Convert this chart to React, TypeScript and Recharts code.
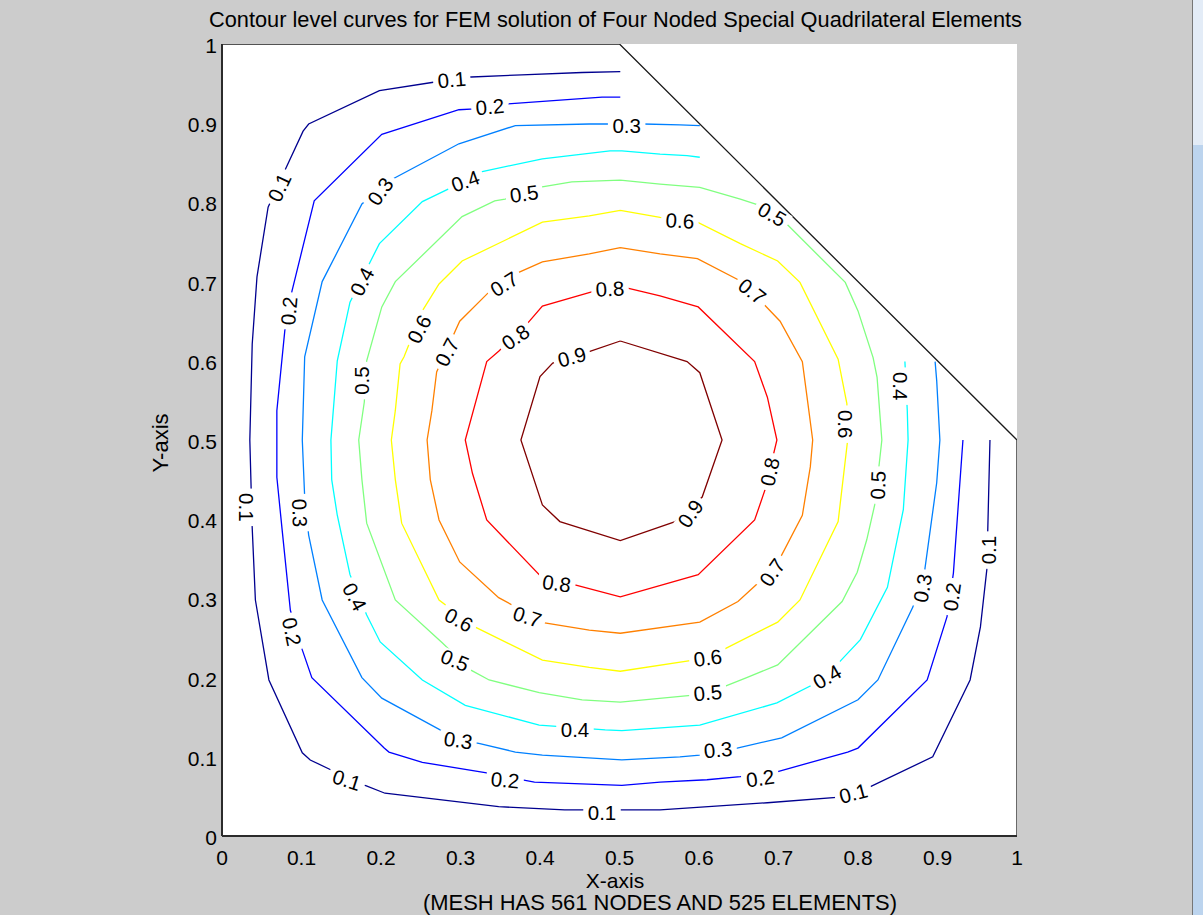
import React from 'react';
import { LineChart, Line, XAxis, YAxis, CartesianGrid, ReferenceDot } from 'recharts';

type Pt = [number, number];
type Lab = [number, number, number]; // x, y, rotation (deg)

const FONT = '"Liberation Sans", Arial, Helvetica, sans-serif';

const tickValues = [0, 0.1, 0.2, 0.3, 0.4, 0.5, 0.6, 0.7, 0.8, 0.9, 1];
const tickLabels = ['0', '0.1', '0.2', '0.3', '0.4', '0.5', '0.6', '0.7', '0.8', '0.9', '1'];

const levelNames = ['0.1', '0.2', '0.3', '0.4', '0.5', '0.6', '0.7', '0.8', '0.9'];
const levelColors = ['#00008f', '#0000ff', '#0080ff', '#00ffff', '#80ff80', '#ffff00', '#ff8000', '#ff0000', '#800000'];

const level01: Pt[] = [[0.501,0.965],[0.453,0.964],[0.377,0.961],[0.306,0.958],[0.268,0.952],[0.198,0.941],[0.109,0.899],[0.102,0.890],[0.078,0.838],[0.058,0.794],[0.044,0.706],[0.038,0.621],[0.035,0.5],[0.038,0.389],[0.042,0.298],[0.059,0.197],[0.101,0.105],[0.111,0.096],[0.138,0.083],[0.180,0.064],[0.205,0.054],[0.348,0.037],[0.431,0.033],[0.551,0.033],[0.686,0.042],[0.777,0.049],[0.815,0.062],[0.894,0.100],[0.941,0.197],[0.954,0.264],[0.962,0.336],[0.966,0.5]];
const level02: Pt[] = [[0.501,0.933],[0.478,0.933],[0.356,0.924],[0.318,0.918],[0.298,0.917],[0.201,0.886],[0.116,0.802],[0.088,0.688],[0.079,0.638],[0.069,0.537],[0.069,0.453],[0.076,0.383],[0.086,0.285],[0.101,0.235],[0.113,0.200],[0.204,0.111],[0.210,0.106],[0.252,0.093],[0.331,0.080],[0.393,0.068],[0.503,0.064],[0.551,0.068],[0.610,0.071],[0.652,0.075],[0.698,0.081],[0.787,0.106],[0.800,0.111],[0.887,0.197],[0.912,0.277],[0.920,0.332],[0.932,0.5]];
const level03: Pt[] = [[0.601,0.897],[0.576,0.898],[0.530,0.899],[0.503,0.899],[0.462,0.899],[0.369,0.897],[0.298,0.874],[0.210,0.827],[0.176,0.798],[0.126,0.700],[0.104,0.605],[0.101,0.5],[0.104,0.428],[0.109,0.380],[0.126,0.298],[0.176,0.200],[0.201,0.174],[0.298,0.121],[0.323,0.117],[0.369,0.106],[0.403,0.102],[0.503,0.096],[0.576,0.100],[0.601,0.102],[0.648,0.111],[0.704,0.124],[0.800,0.172],[0.825,0.197],[0.869,0.289],[0.884,0.336],[0.899,0.446],[0.903,0.5],[0.899,0.575],[0.897,0.599]];
const level04: Pt[] = [[0.601,0.857],[0.585,0.859],[0.551,0.861],[0.503,0.865],[0.488,0.865],[0.403,0.855],[0.323,0.838],[0.289,0.819],[0.252,0.801],[0.198,0.748],[0.161,0.674],[0.145,0.600],[0.137,0.5],[0.138,0.450],[0.145,0.405],[0.161,0.330],[0.182,0.279],[0.199,0.245],[0.252,0.197],[0.306,0.165],[0.399,0.140],[0.482,0.134],[0.503,0.133],[0.601,0.140],[0.698,0.168],[0.743,0.191],[0.775,0.218],[0.803,0.248],[0.837,0.314],[0.857,0.412],[0.863,0.5],[0.862,0.537],[0.859,0.599]];
const level05: Pt[] = [[0.501,0.828],[0.551,0.823],[0.601,0.819],[0.652,0.804],[0.677,0.796],[0.712,0.771],[0.784,0.699],[0.800,0.663],[0.819,0.604],[0.824,0.579],[0.830,0.5],[0.821,0.418],[0.811,0.374],[0.799,0.333],[0.780,0.296],[0.699,0.216],[0.660,0.200],[0.630,0.188],[0.593,0.178],[0.501,0.169],[0.453,0.172],[0.399,0.181],[0.336,0.197],[0.312,0.210],[0.277,0.244],[0.218,0.298],[0.182,0.395],[0.176,0.450],[0.172,0.5],[0.179,0.548],[0.182,0.600],[0.201,0.668],[0.218,0.700],[0.302,0.782],[0.343,0.802],[0.356,0.804],[0.399,0.819],[0.440,0.826],[0.501,0.828]];
const level06: Pt[] = [[0.501,0.790],[0.551,0.781],[0.598,0.775],[0.652,0.748],[0.699,0.726],[0.727,0.699],[0.775,0.602],[0.786,0.546],[0.787,0.5],[0.775,0.397],[0.727,0.298],[0.699,0.270],[0.630,0.235],[0.593,0.222],[0.501,0.208],[0.462,0.213],[0.403,0.222],[0.318,0.264],[0.273,0.298],[0.226,0.395],[0.218,0.450],[0.213,0.5],[0.218,0.537],[0.224,0.596],[0.229,0.605],[0.252,0.663],[0.273,0.697],[0.302,0.726],[0.403,0.775],[0.462,0.783],[0.501,0.790]];
const level07: Pt[] = [[0.501,0.743],[0.551,0.735],[0.598,0.729],[0.648,0.703],[0.681,0.672],[0.702,0.650],[0.730,0.599],[0.737,0.546],[0.743,0.5],[0.740,0.466],[0.730,0.405],[0.702,0.351],[0.674,0.319],[0.649,0.296],[0.601,0.270],[0.501,0.256],[0.462,0.260],[0.406,0.269],[0.348,0.301],[0.299,0.346],[0.273,0.399],[0.262,0.450],[0.258,0.5],[0.264,0.537],[0.270,0.586],[0.299,0.650],[0.336,0.687],[0.374,0.712],[0.403,0.725],[0.462,0.735],[0.501,0.743]];
const level08: Pt[] = [[0.501,0.694],[0.551,0.682],[0.599,0.668],[0.670,0.599],[0.686,0.554],[0.698,0.5],[0.683,0.437],[0.670,0.399],[0.599,0.330],[0.501,0.302],[0.444,0.317],[0.399,0.330],[0.333,0.399],[0.315,0.458],[0.306,0.5],[0.333,0.599],[0.348,0.612],[0.384,0.647],[0.403,0.669],[0.465,0.687],[0.501,0.694]];
const level09: Pt[] = [[0.501,0.625],[0.585,0.599],[0.601,0.585],[0.629,0.5],[0.604,0.428],[0.570,0.397],[0.501,0.373],[0.425,0.397],[0.403,0.418],[0.376,0.5],[0.400,0.580],[0.416,0.597],[0.460,0.611],[0.501,0.625]];

const boundary: Pt[] = [[0, 1], [0.5, 1], [1, 0.5], [1, 0]];

const labels01: Lab[] = [[0.289,0.955,-5],[0.072,0.819,-65],[0.031,0.415,90],[0.157,0.071,18],[0.478,0.029,0],[0.794,0.054,-15],[0.964,0.361,-90]];
const labels02: Lab[] = [[0.337,0.921,-5],[0.084,0.663,-85],[0.088,0.258,78],[0.356,0.071,5],[0.677,0.073,-8],[0.918,0.302,-82]];
const labels03: Lab[] = [[0.509,0.897,0],[0.199,0.814,-55],[0.098,0.408,88],[0.297,0.121,8],[0.624,0.109,-5],[0.881,0.313,-80]];
const labels04: Lab[] = [[0.306,0.827,-20],[0.176,0.700,-62],[0.167,0.302,62],[0.444,0.134,0],[0.761,0.201,-30],[0.853,0.568,90]];
const labels05: Lab[] = [[0.380,0.811,-8],[0.176,0.575,-90],[0.293,0.222,22],[0.611,0.181,-5],[0.692,0.785,30],[0.825,0.443,-88]];
const labels06: Lab[] = [[0.576,0.777,3],[0.248,0.640,-62],[0.298,0.273,28],[0.611,0.225,-8],[0.784,0.520,90]];
const labels07: Lab[] = [[0.355,0.697,-32],[0.283,0.611,-62],[0.384,0.277,18],[0.692,0.333,-55],[0.667,0.688,38]];
const labels08: Lab[] = [[0.488,0.691,-3],[0.369,0.630,-35],[0.421,0.319,8],[0.689,0.460,-78]];
const labels09: Lab[] = [[0.440,0.605,-15],[0.589,0.407,-55]];

const levelLines = [level01, level02, level03, level04, level05, level06, level07, level08, level09];
const levelLabels = [labels01, labels02, labels03, labels04, labels05, labels06, labels07, labels08, labels09];

const toData = (pts: Pt[]) => pts.map(([x, y]) => ({ x, y }));

const tickText = (v: number) => {
  const i = tickValues.findIndex((t) => Math.abs(t - v) < 1e-9);
  return i >= 0 ? tickLabels[i] : String(v);
};

const XTick = (props: any) => (
  <text x={props.x} y={props.y + 29} textAnchor="middle" fontSize={21} fontFamily={FONT} fill="#000">
    {tickText(props.payload.value)}
  </text>
);

const YTick = (props: any) => (
  <text x={props.x - 5} y={props.y + 9} textAnchor="end" fontSize={21} fontFamily={FONT} fill="#000">
    {tickText(props.payload.value)}
  </text>
);

const makeLabelShape = (text: string, angle: number) => (p: any) => {
  const w = text.length * 10.5 + 6;
  return (
    <g transform={`translate(${p.cx},${p.cy}) rotate(${angle})`}>
      <rect x={-w / 2} y={-8.5} width={w} height={17} fill="#ffffff" />
      <text x={0} y={0} dy="0.36em" textAnchor="middle" fontSize={20.5} fontFamily={FONT} fill="#000">
        {text}
      </text>
    </g>
  );
};

export default function App() {
  return (
    <div style={{ position: 'absolute', left: 0, top: 0, width: 1203, height: 915, background: '#cccccc', overflow: 'hidden' }}>
      <div style={{ position: 'absolute', left: 0, top: 0 }}>
        <LineChart width={1203} height={915} margin={{ top: 44, right: 186, bottom: 39, left: 162 }}>
          <CartesianGrid fill="#ffffff" fillOpacity={1} horizontal={false} vertical={false} stroke="none" />
          <XAxis
            type="number"
            dataKey="x"
            domain={[0, 1]}
            ticks={tickValues}
            interval={0}
            allowDataOverflow
            height={40}
            tickSize={0}
            tickMargin={0}
            tickLine={false}
            axisLine={{ stroke: '#2b2b2b', strokeWidth: 2 }}
            tick={<XTick />}
          />
          <YAxis
            type="number"
            dataKey="y"
            domain={[0, 1]}
            ticks={tickValues}
            interval={0}
            allowDataOverflow
            width={60}
            tickSize={0}
            tickMargin={0}
            tickLine={false}
            axisLine={{ stroke: '#2b2b2b', strokeWidth: 2 }}
            tick={<YTick />}
          />
          {levelLines.map((pts, i) => (
            <Line
              key={levelNames[i]}
              data={toData(pts)}
              dataKey="y"
              type="linear"
              stroke={levelColors[i]}
              strokeWidth={1.3}
              dot={false}
              activeDot={false}
              isAnimationActive={false}
            />
          ))}
          <Line
            data={toData(boundary)}
            dataKey="y"
            type="linear"
            stroke="#1a1a1a"
            strokeWidth={1.3}
            dot={false}
            activeDot={false}
            isAnimationActive={false}
          />
          {levelLabels.map((labs, i) =>
            labs.map(([x, y, a], j) => (
              <ReferenceDot
                key={`${levelNames[i]}-${j}`}
                x={x}
                y={y}
                r={0}
                ifOverflow="visible"
                shape={makeLabelShape(levelNames[i], a)}
              />
            ))
          )}
        </LineChart>
      </div>
      <svg width={1203} height={915} style={{ position: 'absolute', left: 0, top: 0, pointerEvents: 'none' }}>
        <text x={615.5} y={27} textAnchor="middle" fontSize={22} fontFamily={FONT} fill="#000" textLength={813} lengthAdjust="spacingAndGlyphs">
          Contour level curves for FEM solution of Four Noded Special Quadrilateral Elements
        </text>
        <text transform="translate(160,443) rotate(-90)" x={0} y={0} dy="0.36em" textAnchor="middle" fontSize={22} fontFamily={FONT} fill="#000">
          Y-axis
        </text>
        <text x={615} y={888} textAnchor="middle" fontSize={21} fontFamily={FONT} fill="#000">
          X-axis
        </text>
        <text x={660} y={910} textAnchor="middle" fontSize={22} fontFamily={FONT} fill="#000" textLength={474} lengthAdjust="spacingAndGlyphs">
          (MESH HAS 561 NODES AND 525 ELEMENTS)
        </text>
      </svg>
      <div style={{ position: 'absolute', left: 1192, top: 0, width: 1, height: 915, background: '#767676' }} />
      <div style={{ position: 'absolute', left: 1193, top: 0, width: 10, height: 145, background: '#e3ecf7' }} />
      <div style={{ position: 'absolute', left: 1193, top: 145, width: 10, height: 770, background: '#bcd4ee' }} />
    </div>
  );
}
